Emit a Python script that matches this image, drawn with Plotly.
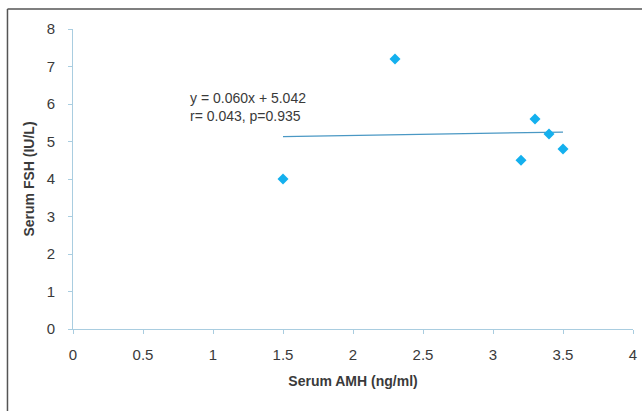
import plotly.graph_objects as go

# Serum AMH vs serum FSH measurements
amh = [1.5, 2.3, 3.2, 3.3, 3.4, 3.5]
fsh = [4.0, 7.2, 4.5, 5.6, 5.2, 4.8]

# Linear fit reported on the chart
slope = 0.060
intercept = 5.042
fit_x = [min(amh), max(amh)]
fit_y = [slope * v + intercept for v in fit_x]

x_ticks = [0, 0.5, 1, 1.5, 2, 2.5, 3, 3.5, 4]
y_ticks = [0, 1, 2, 3, 4, 5, 6, 7, 8]

axis_color = "#a9cde0"
text_color = "#3a3a3a"
font_family = "Liberation Sans, Arial, sans-serif"

fig = go.Figure()
fig.add_trace(go.Scatter(
    x=fit_x, y=fit_y, mode="lines",
    line=dict(color="#4a98c4", width=1.2),
    hoverinfo="skip", showlegend=False,
))
fig.add_trace(go.Scatter(
    x=amh, y=fsh, mode="markers",
    marker=dict(symbol="diamond", size=8.5, color="#14b0ee"),
    showlegend=False,
))

fig.add_annotation(
    x=0.82, y=5.92, xref="x", yref="y",
    text="y = 0.060x + 5.042<br>r= 0.043, p=0.935",
    showarrow=False, align="left", xanchor="left", yanchor="middle",
    font=dict(family=font_family, size=14, color=text_color),
)

# Outer chart frame
fig.add_shape(type="line", xref="paper", yref="paper",
              x0=-0.117, x1=-0.117, y0=1.0667, y1=-0.3,
              line=dict(color="#555555", width=1.5))
fig.add_shape(type="line", xref="paper", yref="paper",
              x0=-0.117, x1=1.05, y0=1.0667, y1=1.0667,
              line=dict(color="#555555", width=1.5))

fig.update_layout(
    width=642, height=411,
    margin=dict(l=73, r=5, t=29, b=82),
    paper_bgcolor="white", plot_bgcolor="white",
    font=dict(family=font_family, size=14, color=text_color),
    xaxis=dict(
        range=[0, 4], tickvals=x_ticks, ticktext=[str(v) for v in x_ticks],
        showgrid=False, zeroline=False, showline=True, linecolor=axis_color,
        linewidth=1, ticks="outside", ticklen=4, tickcolor=axis_color,
        ticklabelstandoff=8, ticklabeloverflow="allow",
        tickfont=dict(size=15, color=text_color),
        title=dict(text="<b>Serum AMH (ng/ml)</b>", font=dict(size=14, color=text_color), standoff=14),
    ),
    yaxis=dict(
        range=[0, 8], tickvals=y_ticks,
        showgrid=False, zeroline=False, showline=True, linecolor=axis_color,
        linewidth=1, ticks="outside", ticklen=4, tickcolor=axis_color,
        ticklabelstandoff=10,
        tickfont=dict(size=15, color=text_color),
        title=dict(text="<b>Serum FSH (IU/L)</b>", font=dict(size=14, color=text_color), standoff=8),
    ),
)

fig.write_html("out.html")
